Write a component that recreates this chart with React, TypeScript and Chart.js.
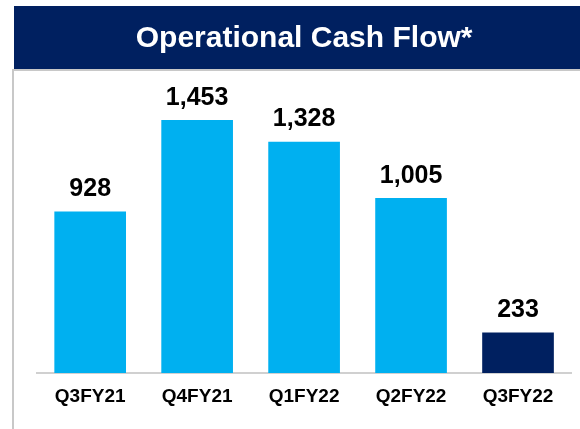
import React, { useEffect, useRef } from "react";
import { Chart, registerables } from "chart.js";

Chart.register(...registerables);

const categories = ["Q3FY21", "Q4FY21", "Q1FY22", "Q2FY22", "Q3FY22"];
const cashFlow = [928, 1453, 1328, 1005, 233];
const barColors = ["#00B0F0", "#00B0F0", "#00B0F0", "#00B0F0", "#002060"];
const titleText = "Operational Cash Flow*";

const FONT = "'Liberation Sans', Arial, sans-serif";

const framePlugin = {
  id: "frame",
  beforeDraw(chart: any) {
    const ctx = chart.ctx;
    ctx.save();
    ctx.fillStyle = "#ffffff";
    ctx.fillRect(0, 0, chart.width, chart.height);
    ctx.fillStyle = "#002060";
    ctx.fillRect(14, 6, chart.width - 14, 63);
    ctx.fillStyle = "#c8c8c8";
    ctx.fillRect(12, 69, chart.width - 12, 2);
    ctx.fillRect(12, 69, 2, chart.height - 69);
    ctx.restore();
  },
};

const valueLabelPlugin = {
  id: "valueLabels",
  afterDatasetsDraw(chart: any) {
    const ctx = chart.ctx;
    const meta = chart.getDatasetMeta(0);
    const data = chart.data.datasets[0].data as number[];
    ctx.save();
    ctx.font = `bold 25px ${FONT}`;
    ctx.fillStyle = "#000000";
    ctx.textAlign = "center";
    ctx.textBaseline = "alphabetic";
    meta.data.forEach((bar: any, i: number) => {
      ctx.fillText(data[i].toLocaleString("en-US"), bar.x, bar.y - 15.5);
    });
    ctx.restore();
  },
};

export default function App() {
  const ref = useRef<HTMLCanvasElement | null>(null);

  useEffect(() => {
    document.body.style.margin = "0";
    if (!ref.current) return;
    const chart = new Chart(ref.current, {
      type: "bar",
      data: {
        labels: categories,
        datasets: [
          {
            data: cashFlow,
            backgroundColor: barColors,
            borderWidth: 0,
            categoryPercentage: 1,
            barPercentage: 0.67,
          },
        ],
      },
      options: {
        responsive: false,
        animation: false,
        layout: { padding: { left: 36.7, right: 8.5, top: 0, bottom: 8 } },
        plugins: {
          legend: { display: false },
          tooltip: { enabled: false },
          title: {
            display: true,
            text: titleText,
            color: "#ffffff",
            font: { family: FONT, size: 30, weight: "bold" },
            padding: { top: 20.3, bottom: 20.7 },
          },
        },
        scales: {
          x: {
            grid: { display: false, drawTicks: false },
            border: { display: true, color: "#d0d0d0", width: 2 },
            ticks: {
              color: "#000000",
              padding: 12.6,
              font: { family: FONT, size: 19, weight: "bold" },
            },
          },
          y: {
            display: false,
            min: 0,
            max: 1700,
          },
        },
      },
      plugins: [framePlugin, valueLabelPlugin],
    });
    return () => chart.destroy();
  }, []);

  return <canvas ref={ref} width={580} height={429} style={{ display: "block" }} />;
}
